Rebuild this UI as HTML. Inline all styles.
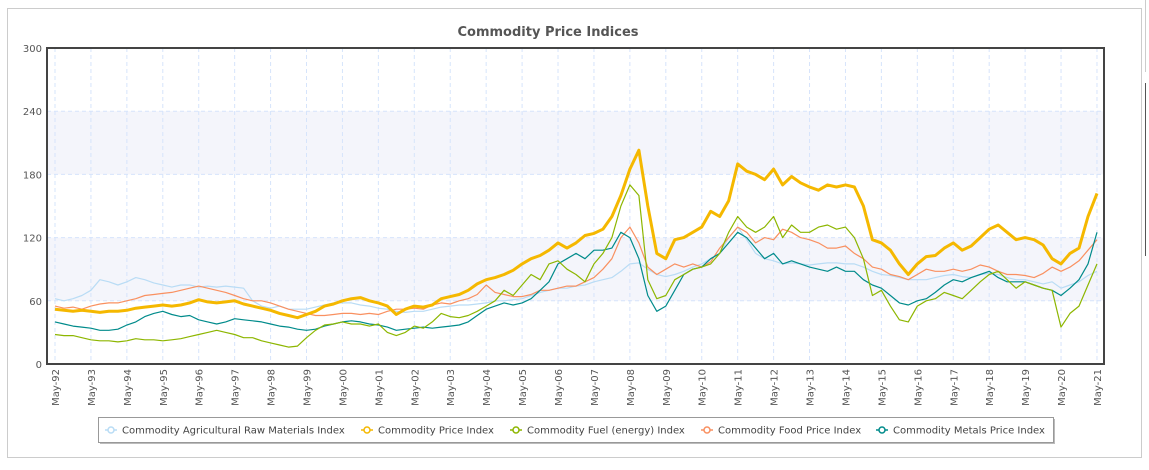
<!DOCTYPE html>
<html><head><meta charset="utf-8"><style>
body{margin:0;background:#fff;width:1149px;height:466px;overflow:hidden;font-family:"DejaVu Sans",sans-serif}
</style></head><body>
<svg id="chart" width="1149" height="466" xmlns="http://www.w3.org/2000/svg" font-family="DejaVu Sans, sans-serif">
<rect x="7.5" y="8.5" width="1134" height="449" fill="#fff" stroke="#ccc"/>
<line x1="1145.5" y1="83" x2="1145.5" y2="256" stroke="#555"/>
<line x1="1145.5" y1="0" x2="1145.5" y2="72" stroke="#ccc"/>
<text x="548" y="36" text-anchor="middle" font-size="13" font-weight="bold" fill="#555">Commodity Price Indices</text>
<g id="plot"></g>
<g id="legend"></g>
</svg>
<script>
const years = ["92","93","94","95","96","97","98","99","00","01","02","03","04","05","06","07","08","09","10","11","12","13","14","15","16","17","18","19","20","21"];
const yTicks = [0,60,120,180,240,300];
const seriesNames = ["Commodity Agricultural Raw Materials Index","Commodity Price Index","Commodity Fuel (energy) Index","Commodity Food Price Index","Commodity Metals Price Index"];
const seriesColors = ["#b9dcf5","#f5b800","#8db600","#f99060","#008b8b"];
const agri = [62,60,62,65,70,80,78,75,78,82,80,77,75,73,75,75,73,74,73,74,73,72,60,55,53,55,52,52,52,54,56,58,58,58,56,55,53,52,50,49,50,50,52,54,55,56,56,57,58,60,60,61,62,65,68,70,72,72,74,75,78,80,82,88,95,96,90,85,83,85,88,92,95,100,105,120,130,118,105,100,98,95,96,95,94,95,96,96,95,95,92,88,85,84,82,80,80,80,82,84,85,83,82,85,86,85,82,80,80,78,76,78,72,75,78,84,88];
const price = [52,51,50,51,50,49,50,50,51,53,54,55,56,55,56,58,61,59,58,59,60,57,55,53,51,48,46,44,47,50,55,57,60,62,63,60,58,55,47,52,55,54,56,62,64,66,70,76,80,82,85,89,95,100,103,108,115,110,115,122,124,128,140,160,185,203,150,105,100,118,120,125,130,145,140,155,190,183,180,175,185,170,178,172,168,165,170,168,170,168,150,118,115,108,95,85,95,102,103,110,115,108,112,120,128,132,125,118,120,118,113,100,95,105,110,140,162];
const fuel = [28,27,27,25,23,22,22,21,22,24,23,23,22,23,24,26,28,30,32,30,28,25,25,22,20,18,16,17,25,32,37,38,40,38,38,36,38,30,27,30,36,34,40,48,45,44,46,50,55,60,70,65,75,85,80,95,98,90,85,78,95,105,120,150,170,160,80,62,65,80,85,90,92,95,105,125,140,130,125,130,140,120,132,125,125,130,132,128,130,120,100,65,70,55,42,40,55,60,62,68,65,62,70,78,85,88,80,72,78,75,72,70,35,48,55,75,95];
const food = [55,53,54,52,55,57,58,58,60,62,65,66,67,68,70,72,74,72,70,68,65,62,60,60,58,55,52,50,48,46,46,47,48,48,47,48,47,50,52,52,53,52,56,58,57,60,62,66,75,68,66,64,64,66,70,70,72,74,74,78,82,90,100,120,130,115,92,85,90,95,92,95,92,97,110,120,130,125,115,120,118,128,125,120,118,115,110,110,112,105,100,92,90,85,83,80,85,90,88,88,90,88,90,94,92,88,85,85,84,82,86,92,88,92,98,108,118];
const metals = [40,38,36,35,34,32,32,33,37,40,45,48,50,47,45,46,42,40,38,40,43,42,41,40,38,36,35,33,32,33,36,38,40,41,40,38,37,35,32,33,34,35,34,35,36,37,40,46,52,55,58,56,58,62,70,78,95,100,105,100,108,108,110,125,120,100,65,50,55,70,85,90,92,100,105,115,125,120,110,100,105,95,98,95,92,90,88,92,88,88,80,75,72,65,58,56,60,62,68,75,80,78,82,85,88,82,78,78,78,75,72,70,65,72,80,95,125];
const allSeries = [agri, price, fuel, food, metals];

const NS = "http://www.w3.org/2000/svg";
const L = 47, R = 1104, T = 48, B = 364;
const x0 = 55, pxPerQ = 35.93 / 4;
function xScale(i){ return x0 + i * pxPerQ; }
function yScale(v){ return B - (v / 300) * (B - T); }
function mk(tag, attrs, parent){ const e = document.createElementNS(NS, tag); for (const k in attrs) e.setAttribute(k, attrs[k]); parent.appendChild(e); return e; }
const plot = document.getElementById("plot");
[[60,120],[180,240]].forEach(b => {
  const r = mk("rect", {x:L, y:yScale(b[1]), width:R-L, height:yScale(b[0])-yScale(b[1]), fill:"#f4f5fb"}, plot);
  
  
});
yTicks.forEach(v => {
  const g = mk("line", {x1:L, x2:R, y1:yScale(v), y2:yScale(v), stroke:"#d6e4fb", "stroke-dasharray":"4,3"}, plot);
  
  
  const t = mk("text", {x:L-5, y:yScale(v)+4, "text-anchor":"end", "font-size":"10", fill:"#555"}, plot);
  t.textContent = v;
  
  
});
years.forEach((y, i) => {
  const x = xScale(i * 4);
  const g = mk("line", {x1:x, x2:x, y1:T, y2:B, stroke:"#d6e4fb", "stroke-dasharray":"4,3"}, plot);
  
  
  const t = mk("text", {x:0, y:0, "text-anchor":"end", "font-size":"10", fill:"#555", transform:`translate(${x+4},369) rotate(-90)`}, plot);
  t.textContent = "May-" + y;
  
  
});
const order = [0,3,4,2,1];
order.forEach(si => {
  const d = allSeries[si].map((v, i) => (i ? "L" : "M") + xScale(i).toFixed(1) + "," + yScale(v).toFixed(1)).join("");
  const p = mk("path", {d:d, fill:"none", stroke:seriesColors[si], "stroke-width": si === 1 ? 3 : 1.2, "stroke-linejoin":"round"}, plot);
  
  
});
const border = mk("rect", {x:L, y:T, width:R-L, height:B-T, fill:"none", stroke:"#444", "stroke-width":"2"}, plot);


const lg = document.getElementById("legend");
const sh = mk("rect", {x:100, y:419, width:955, height:25, fill:"#bbb"}, lg);


const box = mk("rect", {x:98.5, y:417.5, width:955, height:25, fill:"#fff", stroke:"#999"}, lg);


const lx = [111, 367, 516, 707, 882];
seriesNames.forEach((n, i) => {
  const g = mk("g", {}, lg);
  
  
  mk("line", {x1:lx[i]-6, x2:lx[i]+6, y1:430, y2:430, stroke:seriesColors[i], "stroke-width":1.5}, g);
  mk("circle", {cx:lx[i], cy:430, r:3, fill:"#fff", stroke:seriesColors[i], "stroke-width":1.5}, g);
  const t = mk("text", {x:lx[i]+11, y:433.5, "font-size":"10", fill:"#444"}, g);
  t.textContent = n;
});
</script>
</body></html>
